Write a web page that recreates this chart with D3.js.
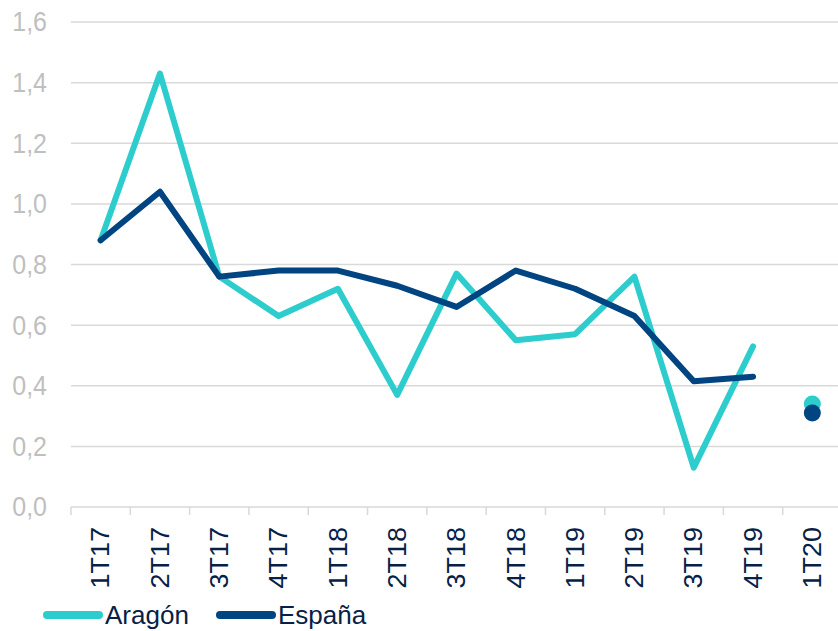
<!DOCTYPE html>
<html>
<head>
<meta charset="utf-8">
<script src="https://cdn.jsdelivr.net/npm/d3@7"></script>
<style>
  body { margin: 0; background: #fff; }
  svg { display: block; font-family: "Liberation Sans", Arial, sans-serif; }
</style>
</head>
<body>
<svg width="838" height="631"></svg>
<script>
// data
var quarters = ["1T17", "2T17", "3T17", "4T17", "1T18", "2T18", "3T18", "4T18", "1T19", "2T19", "3T19", "4T19", "1T20"];
var aragon = [0.88, 1.43, 0.76, 0.63, 0.72, 0.37, 0.77, 0.55, 0.57, 0.76, 0.13, 0.53, 0.34];
var espana = [0.88, 1.04, 0.76, 0.78, 0.78, 0.73, 0.66, 0.78, 0.72, 0.63, 0.415, 0.43, 0.31];
var yTicks = [0, 0.2, 0.4, 0.6, 0.8, 1.0, 1.2, 1.4, 1.6];

var series = [
  { name: "Aragón", values: aragon, color: "#2dcccd" },
  { name: "España", values: espana, color: "#004481" }
];

var svg = d3.select("svg"), width = +svg.attr("width"), height = +svg.attr("height");

var x = d3.scaleBand().domain(quarters).range([71, 842]).padding(0);
var y = d3.scaleLinear().domain([0, 1.6]).range([507, 22]);
var fmt = function(d) { return d3.format(".1f")(d).replace(".", ","); };

// gridlines
svg.append("g").selectAll("line").data(yTicks.slice(1)).enter().append("line")
  .attr("x1", 71).attr("x2", width)
  .attr("y1", function(d) { return y(d); }).attr("y2", function(d) { return y(d); })
  .attr("stroke", "#d9d9d9").attr("stroke-width", 1.5);

// y labels (chart image is a bit stretched vertically)
svg.append("g").selectAll("text").data(yTicks).enter().append("text")
  .attr("transform", function(d) { return "translate(47," + y(d) + ") scale(1,1.08)"; })
  .attr("dy", "0.35em").attr("text-anchor", "end")
  .attr("fill", "#bfbfbf").style("font-size", "25px")
  .text(fmt);

// x axis line + ticks at band edges
svg.append("line").attr("x1", 71).attr("x2", width).attr("y1", y(0)).attr("y2", y(0))
  .attr("stroke", "#d9d9d9").attr("stroke-width", 1.5);
svg.append("g").selectAll("line").data(quarters).enter().append("line")
  .attr("x1", function(d) { return x(d); }).attr("x2", function(d) { return x(d); })
  .attr("y1", y(0)).attr("y2", y(0) + 8)
  .attr("stroke", "#d9d9d9").attr("stroke-width", 1.5);

// x labels, rotated
svg.append("g").selectAll("text").data(quarters).enter().append("text")
  .attr("transform", function(d) { return "translate(" + (x(d) + x.bandwidth() / 2) + "," + 527 + ") rotate(-90) scale(1.08,1)"; })
  .attr("dy", "0.35em").attr("text-anchor", "end")
  .attr("fill", "#072146").style("font-size", "25px")
  .text(function(d) { return d; });

// lines up to 4T19, 1T20 shown as a dot
var line = d3.line()
  .x(function(d, i) { return x(quarters[i]) + x.bandwidth() / 2; })
  .y(function(d) { return y(d); });

series.forEach(function(s) {
  svg.append("path").datum(s.values.slice(0, 12))
    .attr("fill", "none").attr("stroke", s.color).attr("stroke-width", 6)
    .attr("stroke-linejoin", "round").attr("stroke-linecap", "round")
    .attr("d", line);
  svg.append("circle")
    .attr("cx", x(quarters[12]) + x.bandwidth() / 2)
    .attr("cy", y(s.values[12]))
    .attr("r", 8.5).attr("fill", s.color);
});

// legend (kept fully inside the frame)
var legend = svg.append("g").selectAll("g").data(series).enter().append("g")
  .attr("transform", function(d, i) { return "translate(" + (i === 0 ? 47 : 220) + ",615)"; });
legend.append("line").attr("x1", 0).attr("x2", 52)
  .attr("stroke", function(d) { return d.color; }).attr("stroke-width", 8).attr("stroke-linecap", "round");
legend.append("text").attr("x", 58).attr("y", 9)
  .attr("fill", "#072146").style("font-size", "26px")
  .text(function(d) { return d.name; });
</script>
</body>
</html>
